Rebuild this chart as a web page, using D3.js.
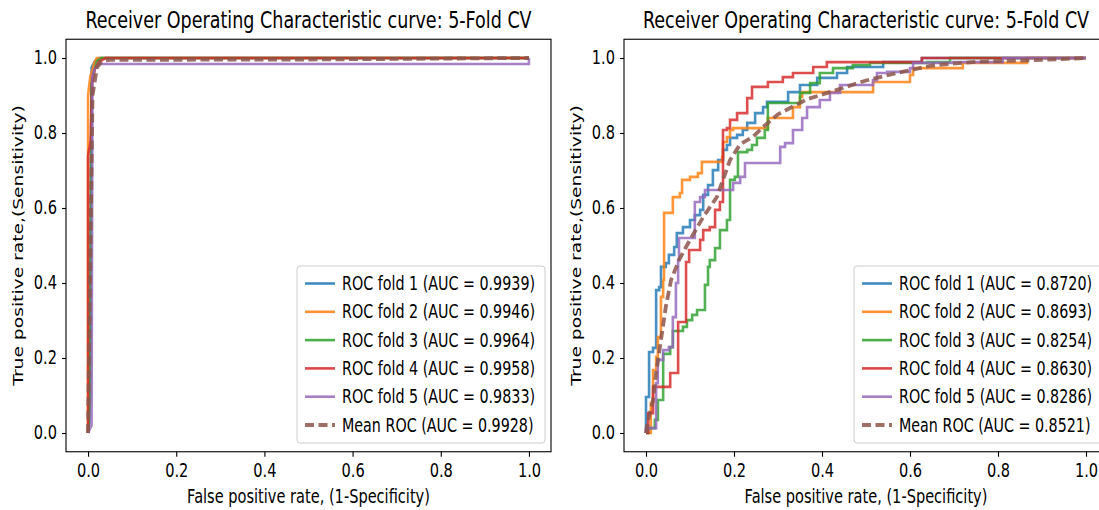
<!DOCTYPE html>
<html><head><meta charset="utf-8">
<script src="https://cdn.jsdelivr.net/npm/d3@7"></script>
<style>html,body{margin:0;padding:0;background:#fff;}svg{display:block;}</style>
</head><body>
<svg id="chart" width="1099" height="510"></svg>
<script>
// ---------- data ----------
const titleText = "Receiver Operating Characteristic curve: 5-Fold CV";
const xLabelText = "False positive rate, (1-Specificity)";
const yLabelText = "True positive rate,(Sensitivity)";
const tickValues = [0.0, 0.2, 0.4, 0.6, 0.8, 1.0];
const seriesNames = ["ROC fold 1", "ROC fold 2", "ROC fold 3", "ROC fold 4", "ROC fold 5", "Mean ROC"];
const seriesColors = ["#1f77b4", "#ff7f0e", "#2ca02c", "#d62728", "#9467bd", "#8c564b"];

// left panel
const leftAUC = [0.9939, 0.9946, 0.9964, 0.9958, 0.9833, 0.9928];
const leftFold1Fpr = [0, 0.003, 0.008, 0.015, 0.025, 1];
const leftFold1Tpr = [0, 0.03, 0.975, 0.99, 1, 1];
const leftFold2Fpr = [0, 0, 0.005, 0.01, 0.015, 0.02, 1];
const leftFold2Tpr = [0, 0.9, 0.95, 0.97, 0.99, 1, 1];
const leftFold3Fpr = [0, 0.005, 0.008, 0.012, 0.015, 0.02, 0.03, 1];
const leftFold3Tpr = [0, 0.1, 0.93, 0.95, 0.97, 0.99, 1, 1];
const leftFold4Fpr = [0, 0, 0.006, 0.009, 0.015, 0.025, 0.04, 1];
const leftFold4Tpr = [0, 0.74, 0.78, 0.93, 0.97, 0.99, 1, 1];
const leftFold5Fpr = [0, 0.008, 0.01, 0.015, 0.025, 1, 1];
const leftFold5Tpr = [0, 0.02, 0.95, 0.97, 0.984, 0.984, 1];
const leftMeanFpr = [0, 0.0101, 0.0202, 0.0303, 0.0404, 0.05, 0.5, 1];
const leftMeanTpr = [0, 0.90, 0.975, 0.99, 0.994, 0.995, 0.996, 1];

// right panel (step curves: horizontal then vertical to each point)
const rightAUC = [0.8720, 0.8693, 0.8254, 0.8630, 0.8286, 0.8521];
const rightFold1Fpr = [0, 0, 0.007, 0.016, 0.023, 0.03, 0.034, 0.045, 0.052, 0.064, 0.07, 0.084, 0.1, 0.111, 0.123, 0.13, 0.141, 0.152, 0.164, 0.175, 0.184, 0.191, 0.207, 0.22, 0.23, 0.248, 0.266, 0.275, 0.323, 0.35, 0.389, 0.434, 0.457, 0.539, 0.627, 1];
const rightFold1Tpr = [0, 0.096, 0.216, 0.227, 0.381, 0.389, 0.443, 0.453, 0.475, 0.496, 0.533, 0.549, 0.568, 0.581, 0.595, 0.635, 0.661, 0.701, 0.728, 0.755, 0.768, 0.787, 0.795, 0.808, 0.827, 0.853, 0.869, 0.883, 0.909, 0.928, 0.947, 0.96, 0.976, 0.989, 1, 1];
const rightFold2Fpr = [0, 0.011, 0.016, 0.023, 0.027, 0.034, 0.039, 0.041, 0.061, 0.077, 0.082, 0.1, 0.118, 0.127, 0.173, 0.175, 0.184, 0.191, 0.198, 0.277, 0.334, 0.35, 0.355, 0.516, 0.6, 0.607, 0.72, 0.866, 1];
const rightFold2Tpr = [0, 0.08, 0.168, 0.203, 0.256, 0.363, 0.408, 0.587, 0.629, 0.64, 0.675, 0.683, 0.693, 0.723, 0.736, 0.776, 0.789, 0.808, 0.813, 0.84, 0.869, 0.896, 0.909, 0.936, 0.955, 0.973, 0.987, 1, 1];
const rightFold3Fpr = [0, 0.005, 0.02, 0.027, 0.039, 0.055, 0.061, 0.084, 0.093, 0.105, 0.116, 0.134, 0.141, 0.145, 0.157, 0.168, 0.184, 0.191, 0.202, 0.209, 0.23, 0.241, 0.252, 0.27, 0.277, 0.35, 0.373, 0.395, 0.425, 0.47, 0.509, 0.639, 0.691, 1];
const rightFold3Tpr = [0, 0.013, 0.035, 0.088, 0.211, 0.229, 0.272, 0.283, 0.301, 0.315, 0.328, 0.395, 0.443, 0.461, 0.493, 0.541, 0.568, 0.675, 0.683, 0.749, 0.755, 0.768, 0.787, 0.808, 0.88, 0.907, 0.933, 0.96, 0.973, 0.981, 0.987, 0.989, 1, 1];
const rightFold4Fpr = [0, 0.005, 0.016, 0.055, 0.073, 0.091, 0.098, 0.123, 0.13, 0.145, 0.157, 0.168, 0.175, 0.184, 0.191, 0.207, 0.23, 0.241, 0.277, 0.311, 0.334, 0.38, 0.411, 0.627, 1];
const rightFold4Tpr = [0, 0.053, 0.123, 0.16, 0.296, 0.456, 0.488, 0.515, 0.541, 0.549, 0.595, 0.616, 0.808, 0.813, 0.835, 0.853, 0.893, 0.923, 0.936, 0.949, 0.96, 0.976, 0.989, 1, 1];
const rightFold5Fpr = [0, 0, 0.023, 0.027, 0.039, 0.052, 0.061, 0.068, 0.073, 0.075, 0.111, 0.123, 0.134, 0.198, 0.214, 0.225, 0.305, 0.316, 0.334, 0.355, 0.366, 0.395, 0.418, 0.441, 0.516, 0.525, 0.548, 0.6, 0.607, 0.698, 0.811, 1];
const rightFold5Tpr = [0, 0.013, 0.133, 0.195, 0.221, 0.229, 0.309, 0.4, 0.461, 0.52, 0.616, 0.629, 0.648, 0.667, 0.683, 0.72, 0.763, 0.773, 0.808, 0.84, 0.869, 0.888, 0.907, 0.928, 0.941, 0.96, 0.963, 0.973, 0.987, 0.989, 1, 1];
const rightMeanFpr = [0, 0.005, 0.016, 0.023, 0.034, 0.045, 0.057, 0.075, 0.091, 0.1, 0.13, 0.161, 0.175, 0.191, 0.214, 0.243, 0.27, 0.3, 0.366, 0.434, 0.5, 0.57, 0.65, 0.75, 0.9, 1];
const rightMeanTpr = [0, 0.035, 0.088, 0.16, 0.248, 0.336, 0.408, 0.461, 0.496, 0.515, 0.576, 0.629, 0.675, 0.728, 0.77, 0.79, 0.82, 0.85, 0.89, 0.915, 0.94, 0.96, 0.98, 0.99, 0.995, 1];

// ---------- drawing ----------
const SX = 0.78, SXL = 0.765;
const FS = 18.7, FST = 22.5;
const FONT = "DejaVu Sans";
const svg = d3.select("#chart");

function zip(a, b) { return a.map((v, i) => [v, b[i]]); }

const panels = [
  { left: 66, right: 551, step: false, auc: leftAUC,
    folds: [zip(leftFold1Fpr, leftFold1Tpr), zip(leftFold2Fpr, leftFold2Tpr), zip(leftFold3Fpr, leftFold3Tpr), zip(leftFold4Fpr, leftFold4Tpr), zip(leftFold5Fpr, leftFold5Tpr)],
    mean: zip(leftMeanFpr, leftMeanTpr) },
  { left: 624, right: 1108, step: true, auc: rightAUC,
    folds: [zip(rightFold1Fpr, rightFold1Tpr), zip(rightFold2Fpr, rightFold2Tpr), zip(rightFold3Fpr, rightFold3Tpr), zip(rightFold4Fpr, rightFold4Tpr), zip(rightFold5Fpr, rightFold5Tpr)],
    mean: zip(rightMeanFpr, rightMeanTpr) }
];
const TOP = 39.25, BOTTOM = 451.75;

panels.forEach(p => {
  const g = svg.append("g");
  const x = d3.scaleLinear().domain([-0.05, 1.05]).range([p.left, p.right]);
  const y = d3.scaleLinear().domain([-0.05, 1.05]).range([BOTTOM, TOP]);

  // curves
  const stepLine = d3.line().x(d => x(d[0])).y(d => y(d[1])).curve(p.step ? d3.curveStepAfter : d3.curveLinear);
  const linLine = d3.line().x(d => x(d[0])).y(d => y(d[1]));
  p.folds.forEach((f, i) => {
    g.append("path").attr("d", stepLine(f)).attr("fill", "none")
      .attr("stroke", seriesColors[i]).attr("stroke-width", 2.6).attr("stroke-opacity", 0.82)
      .attr("stroke-linejoin", "miter");
  });
  g.append("path").attr("d", linLine(p.mean)).attr("fill", "none")
    .attr("stroke", seriesColors[5]).attr("stroke-width", 3.8).attr("stroke-opacity", 0.85)
    .attr("stroke-dasharray", "9,4.5");

  // frame
  g.append("rect").attr("x", p.left).attr("y", TOP).attr("width", p.right - p.left).attr("height", BOTTOM - TOP)
    .attr("fill", "none").attr("stroke", "#000").attr("stroke-width", 1.1);

  // axes
  const fmt = d3.format(".1f");
  const xa = g.append("g").attr("transform", `translate(0,${BOTTOM})`)
    .call(d3.axisBottom(x).tickValues(tickValues).tickFormat(fmt).tickSize(5).tickPadding(7));
  xa.select(".domain").remove();
  xa.selectAll("text").attr("font-family", FONT).attr("font-size", FS).attr("fill", "#000")
    .attr("transform", `scale(${SX},1)`);
  xa.selectAll("line").attr("stroke", "#000").attr("stroke-width", 1.1);

  const ya = g.append("g").attr("transform", `translate(${p.left},0)`)
    .call(d3.axisLeft(y).tickValues(tickValues).tickFormat(fmt).tickSize(4).tickPadding(5));
  ya.select(".domain").remove();
  ya.selectAll("text").attr("font-family", FONT).attr("font-size", FS).attr("fill", "#000")
    .attr("x", -9 / SX).attr("transform", `scale(${SX},1)`);
  ya.selectAll("line").attr("stroke", "#000").attr("stroke-width", 1.1);

  const cx = (p.left + p.right) / 2;
  // title
  g.append("text").attr("transform", `translate(${cx},28) scale(${SX},1)`)
    .attr("text-anchor", "middle").attr("font-family", FONT).attr("font-size", FST).attr("fill", "#000")
    .text(titleText);
  // x label
  g.append("text").attr("transform", `translate(${cx},503) scale(${SX},1)`)
    .attr("text-anchor", "middle").attr("font-family", FONT).attr("font-size", FS).attr("fill", "#000")
    .text(xLabelText);
  // y label
  g.append("text").attr("transform", `translate(${p.left - 43},${(TOP + BOTTOM) / 2}) rotate(-90) scale(1,${SX})`)
    .attr("text-anchor", "middle").attr("font-family", FONT).attr("font-size", FS).attr("fill", "#000")
    .text(yLabelText);

  // legend
  const lw = 248, lh = 177;
  const lx = p.right - 6 - lw, ly = 266;
  const lg = g.append("g");
  lg.append("rect").attr("x", lx).attr("y", ly).attr("width", lw).attr("height", lh).attr("rx", 3)
    .attr("fill", "#fff").attr("fill-opacity", 0.8).attr("stroke", "#cccccc").attr("stroke-width", 1);
  seriesNames.forEach((name, i) => {
    const cy = ly + 17.5 + i * 28.3;
    lg.append("line").attr("x1", lx + 8).attr("x2", lx + 38).attr("y1", cy).attr("y2", cy)
      .attr("stroke", seriesColors[i]).attr("stroke-opacity", 0.85)
      .attr("stroke-width", i === 5 ? 3.8 : 2.6)
      .attr("stroke-dasharray", i === 5 ? "9,4.5" : null);
    lg.append("text").attr("transform", `translate(${lx + 45},${cy + 6.5}) scale(${SXL},1)`)
      .attr("font-family", FONT).attr("font-size", FS).attr("fill", "#000")
      .text(`${name} (AUC = ${p.auc[i].toFixed(4)})`);
  });
});
</script>
</body></html>
